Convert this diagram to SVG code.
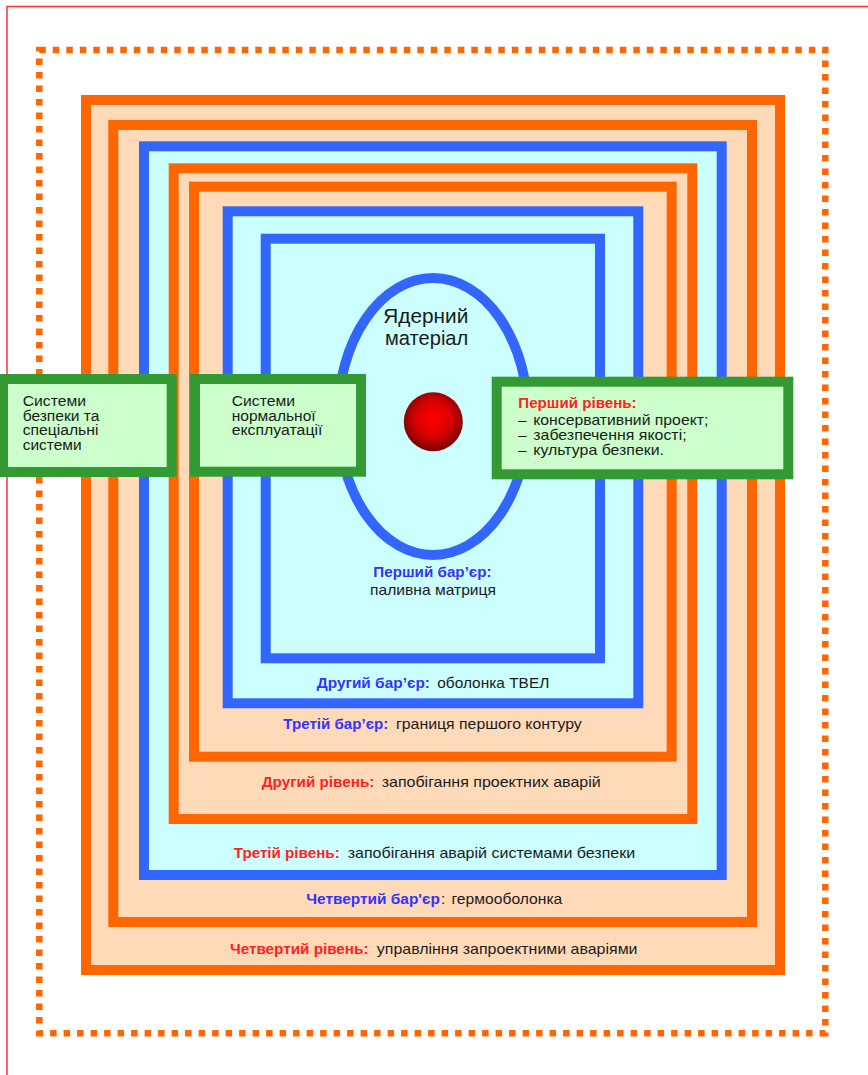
<svg xmlns="http://www.w3.org/2000/svg" width="868" height="1075" viewBox="0 0 868 1075">
<defs>
<radialGradient id="core" cx="50%" cy="45%" r="55%">
<stop offset="0" stop-color="#ff0000"/>
<stop offset="0.55" stop-color="#d80000"/>
<stop offset="1" stop-color="#7a0000"/>
</radialGradient>
<style>
.or{fill:#FFDAB9;stroke:#FF6600;stroke-width:10}
.bl{fill:#CCFFFF;stroke:#3366FF;stroke-width:10}
.gb{fill:#CCFFCC;stroke:#339933;stroke-width:10}
text{font-family:"Liberation Sans",Arial,sans-serif;fill:#1a1a1a}
.lb{font-size:15px}
.b{font-weight:bold;fill:#3333FF}
.r{font-weight:bold;fill:#FF2222}
.box{font-size:15.5px}
</style>
</defs>
<rect width="868" height="1075" fill="#ffffff"/>
<path d="M7 1075 V6.5 H868" fill="none" stroke="#FF3333" stroke-width="1.5"/>
<rect x="39.3" y="50" width="786" height="983.3" fill="none" stroke="#FF6600" stroke-width="6.5" stroke-dasharray="6.5 7"/>
<g id="level4"><rect class="or" x="86" y="100" width="694" height="870"/></g>
<g id="barrier4"><rect class="or" x="113.3" y="125" width="638.7" height="797"/></g>
<g id="level3"><rect class="bl" x="144" y="146.3" width="577.7" height="728.7"/></g>
<g id="barrier3"><rect class="or" x="173.7" y="168.3" width="518.6" height="650.7"/></g>
<g id="level2"><rect class="or" x="194" y="186.7" width="477.7" height="570"/></g>
<g id="barrier2"><rect class="bl" x="227.7" y="211.3" width="410.6" height="492"/></g>
<g id="barrier1"><rect class="bl" x="265.7" y="238.7" width="334.3" height="419.6"/></g>
<g id="fuel">
<ellipse cx="433" cy="416.5" rx="95" ry="138.5" fill="#CCFFFF" stroke="#3366FF" stroke-width="10"/>
<circle cx="433.3" cy="421.7" r="29.5" fill="url(#core)"/>
<text x="383.3" y="322.7" font-size="20.5" textLength="85" lengthAdjust="spacingAndGlyphs">Ядерний</text>
<text x="385" y="345" font-size="20.5" textLength="83.3" lengthAdjust="spacingAndGlyphs">матеріал</text>
</g>
<g id="labels">
<text class="lb b" x="373.3" y="577" textLength="118.3" lengthAdjust="spacingAndGlyphs">Перший бар’єр:</text>
<text class="lb" x="370" y="595" textLength="126" lengthAdjust="spacingAndGlyphs">паливна матриця</text>
<text class="lb b" x="316.7" y="688.3" textLength="113.3" lengthAdjust="spacingAndGlyphs">Другий бар’єр:</text>
<text class="lb" x="437.3" y="688.3" textLength="112" lengthAdjust="spacingAndGlyphs">оболонка ТВЕЛ</text>
<text class="lb b" x="283.3" y="729.3" textLength="105" lengthAdjust="spacingAndGlyphs">Третій бар’єр:</text>
<text class="lb" x="396" y="729.3" textLength="185.7" lengthAdjust="spacingAndGlyphs">границя першого контуру</text>
<text class="lb r" x="261.7" y="786.7" textLength="112.7" lengthAdjust="spacingAndGlyphs">Другий рівень:</text>
<text class="lb" x="381.7" y="786.7" textLength="219" lengthAdjust="spacingAndGlyphs">запобігання проектних аварій</text>
<text class="lb r" x="233.7" y="857.5" textLength="106" lengthAdjust="spacingAndGlyphs">Третій рівень:</text>
<text class="lb" x="347.7" y="857.5" textLength="287.5" lengthAdjust="spacingAndGlyphs">запобігання аварій системами безпеки</text>
<text class="lb b" x="306.2" y="904" textLength="133.8" lengthAdjust="spacingAndGlyphs">Четвертий бар'єр</text>
<text class="lb" x="441" y="904">:</text>
<text class="lb" x="451.5" y="904" textLength="110.8" lengthAdjust="spacingAndGlyphs">гермооболонка</text>
<text class="lb r" x="230" y="953.5" textLength="138.5" lengthAdjust="spacingAndGlyphs">Четвертий рівень:</text>
<text class="lb" x="376.8" y="953.5" textLength="260.7" lengthAdjust="spacingAndGlyphs">управління запроектними аваріями</text>
</g>
<g id="safety-systems">
<rect class="gb" x="3" y="379" width="168.7" height="93"/>
<text class="box" x="22.7" y="406" textLength="63.3" lengthAdjust="spacingAndGlyphs">Системи</text>
<text class="box" x="22.7" y="420.7" textLength="76.7" lengthAdjust="spacingAndGlyphs">безпеки та</text>
<text class="box" x="22.7" y="435.3" textLength="75.7" lengthAdjust="spacingAndGlyphs">спеціальні</text>
<text class="box" x="22.7" y="450" textLength="59" lengthAdjust="spacingAndGlyphs">системи</text>
</g>
<g id="normal-operation">
<rect class="gb" x="195" y="379" width="166" height="92.7"/>
<text class="box" x="231.7" y="406" textLength="63.3" lengthAdjust="spacingAndGlyphs">Системи</text>
<text class="box" x="231.7" y="420.7" textLength="84" lengthAdjust="spacingAndGlyphs">нормальної</text>
<text class="box" x="231.7" y="435.3" textLength="90.7" lengthAdjust="spacingAndGlyphs">експлуатації</text>
</g>
<g id="level1">
<rect class="gb" x="496.7" y="381.7" width="291.6" height="92.6"/>
<text class="lb r" x="518.3" y="408.3" textLength="118.3" lengthAdjust="spacingAndGlyphs">Перший рівень:</text>
<text class="lb" x="518.3" y="425">–</text>
<text class="lb" x="533.3" y="425" textLength="175" lengthAdjust="spacingAndGlyphs">консервативний проект;</text>
<text class="lb" x="518.3" y="440">–</text>
<text class="lb" x="533.3" y="440" textLength="153.3" lengthAdjust="spacingAndGlyphs">забезпечення якості;</text>
<text class="lb" x="518.3" y="455">–</text>
<text class="lb" x="533.3" y="455" textLength="130.7" lengthAdjust="spacingAndGlyphs">культура безпеки.</text>
</g>
</svg>
